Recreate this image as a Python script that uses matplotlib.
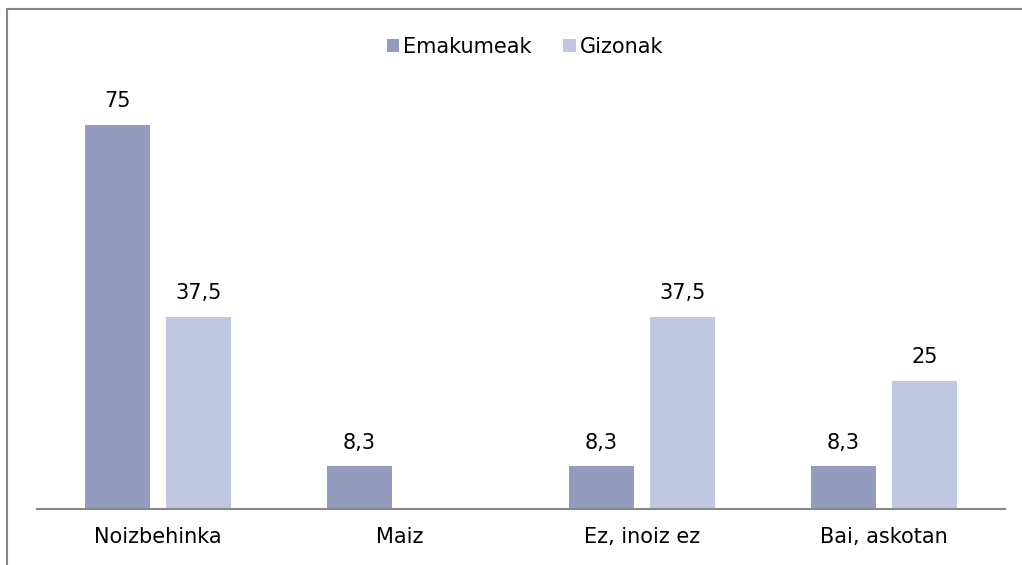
import numpy as np
import matplotlib.pyplot as plt
from matplotlib.lines import Line2D

categories = ['Noizbehinka', 'Maiz', 'Ez, inoiz ez', 'Bai, askotan']
emakumeak = [75, 8.3, 8.3, 8.3]
gizonak = [37.5, None, 37.5, 25]
series_names = ['Emakumeak', 'Gizonak']
colors = ['#949cbd', '#c0c7e0']


def fmt(v):
    return ('%g' % v).replace('.', ',')


def main():
    plt.rcParams['font.family'] = ['DejaVu Sans']
    W, H = 1022, 565
    fig = plt.figure(figsize=(W / 100, H / 100), dpi=100)
    ax = fig.add_axes([37 / W, (H - 509) / H, (1005 - 37) / W, (509 - 99) / H])

    x = np.arange(len(categories))
    width = 0.27
    offset = 0.167
    for i, (vals, name, c) in enumerate(zip([emakumeak, gizonak], series_names, colors)):
        pos = x + (offset if i else -offset)
        xs = [p for p, v in zip(pos, vals) if v is not None]
        ys = [v for v in vals if v is not None]
        bars = ax.bar(xs, ys, width=width, color=c, label=name)
        for b, v in zip(bars, ys):
            ax.annotate(fmt(v), (b.get_x() + b.get_width() / 2, v),
                        xytext=(0, 10), textcoords='offset points',
                        ha='center', va='bottom', fontsize=15)

    ax.set_xlim(-0.5, len(categories) - 0.5)
    ax.set_ylim(0, 80)
    ax.set_yticks([])
    ax.set_xticks(x)
    ax.set_xticklabels(categories, fontsize=15)
    ax.tick_params(axis='x', length=0, pad=13)
    for s in ['top', 'right', 'left']:
        ax.spines[s].set_visible(False)
    ax.spines['bottom'].set_color('#888888')
    ax.spines['bottom'].set_linewidth(1.5)

    fig.legend(loc='center', bbox_to_anchor=(525 / W, 1 - 47 / H), ncol=2,
               frameon=False, fontsize=15, handlelength=0.6, handleheight=0.6,
               handletextpad=0.2, columnspacing=1.5)

    # outer border (left and top only)
    fig.add_artist(Line2D([7 / W, 7 / W], [0, 1 - 9 / H], color='#888888', lw=1.5))
    fig.add_artist(Line2D([7 / W, 1021 / W], [1 - 9 / H, 1 - 9 / H], color='#888888', lw=1.5))

    fig.savefig('out.png', dpi=100)


if __name__ == '__main__':
    main()
